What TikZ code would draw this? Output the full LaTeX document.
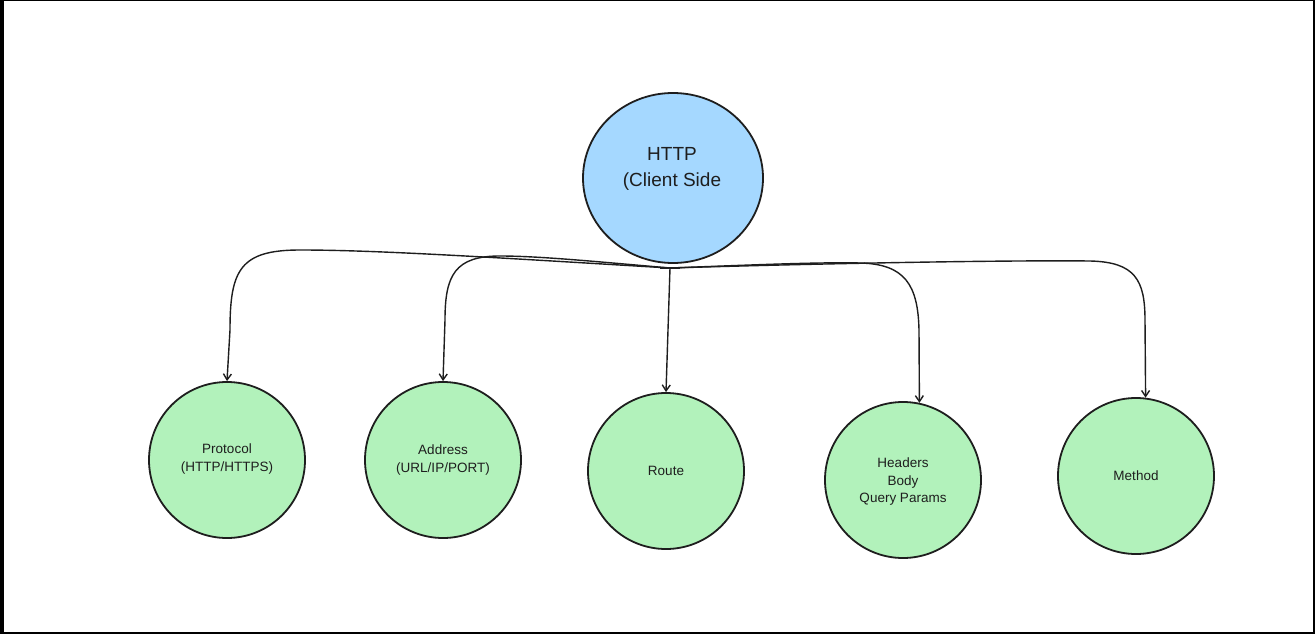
\documentclass[tikz,border=0pt]{standalone}
\usepackage{fontspec}
\setmainfont{Liberation Sans}
\usetikzlibrary{arrows.meta,shapes.geometric}
\definecolor{ink}{HTML}{1E1E1E}
\definecolor{topblue}{HTML}{A5D8FF}
\definecolor{leafgreen}{HTML}{B2F2BB}
\tikzset{
  topnode/.style={ellipse, draw=ink, line width=1.8pt, fill=topblue, minimum width=180pt, minimum height=170pt, inner sep=0pt},
  leaf/.style={circle, draw=ink, line width=1.8pt, fill=leafgreen, minimum size=156pt, inner sep=0pt},
  toptext/.style={align=center, font=\fontsize{19}{26}\selectfont, text=ink},
  leaftext/.style={align=center, font=\fontsize{13.5}{17.5}\selectfont, text=ink},
  conn/.style={draw=ink, line width=1.4pt, -{Straight Barb[length=6pt,width=8pt]}}
}
\begin{document}
\begin{tikzpicture}[x=1pt,y=-1pt]
\useasboundingbox (0,0) rectangle (1315,634);
\fill[white] (0,0) rectangle (1315,634);
% frame
\fill[black] (0,0) rectangle (4,634);
\fill[black] (0,0) rectangle (1315,1.5);
\fill[black] (1312.5,0) rectangle (1315,634);
\fill[black] (0,632) rectangle (1315,634);
% nodes
\node[topnode] (c) at (673,178) {};
\node[toptext] (ct) at (672,169) {HTTP\\(Client Side};
\node[leaf] (p) at (227,460) {};
\node[leaftext] (pt) at (227,459) {Protocol\\(HTTP/HTTPS)};
\node[leaf] (a) at (443,460) {};
\node[leaftext] (at) at (443,460) {Address\\(URL/IP/PORT)};
\node[leaf] (r) at (666,471) {};
\node[leaftext] (rt) at (666,471) {Route};
\node[leaf] (h) at (903,480) {};
\node[leaftext] (ht) at (903,482) {Headers\\Body\\Query Params};
\node[leaf] (m) at (1136,476) {};
\node[leaftext] (mt) at (1136,476) {Method};
\coordinate (j) at (670,268);
% connectors
\draw[conn] (j) .. controls (500,258) and (380,250) .. (300,250) .. controls (240,250) and (230,270) .. (230,330) -- (p.north);
\draw[conn] (j) .. controls (600,262) and (540,256) .. (500,256) .. controls (455,256) and (445,275) .. (445,320) -- (a.north);
\draw[conn] (j) -- (r.north);
\draw[conn] (j) .. controls (750,265) and (820,262) .. (860,263) .. controls (905,264) and (918,285) .. (919,330) -- (h.78);
\draw[conn] (j) .. controls (800,264) and (1000,260) .. (1090,261) .. controls (1135,262) and (1145,280) .. (1145,320) -- (m.83);
\draw[draw=ink, line width=1.6pt] (660,268) -- (680,268);
\end{tikzpicture}
\end{document}
